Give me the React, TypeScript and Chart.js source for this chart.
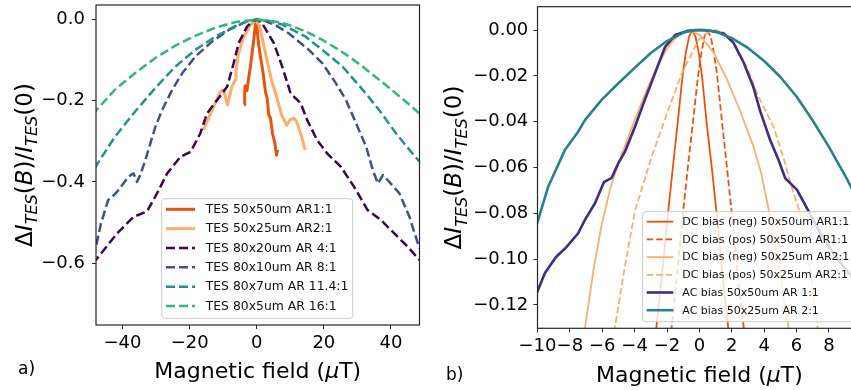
import React, { useEffect, useRef } from "react";
import { Chart, registerables } from "chart.js";

Chart.register(...registerables);

const FONT = "'DejaVu Sans', Verdana, sans-serif";
const MINUS = "\u2212";

// ---------------- Panel a) ----------------
const aXTicks = [-40, -20, 0, 20, 40];
const aYTicks = [0, -0.2, -0.4, -0.6];

const a50x50X = [-3.75, -3.6, -3.45, -2.9, -2.6, -1.9, -1.4, -0.9, -0.4, -0.1, 0.4, 1.1, 1.9, 2.6, 3.1, 3.6, 4.1, 4.7, 5.4, 5.9, 6.2];
const a50x50Y = [-0.21, -0.18, -0.163, -0.175, -0.155, -0.116, -0.083, -0.05, -0.015, 0, -0.05, -0.091, -0.132, -0.178, -0.194, -0.235, -0.243, -0.28, -0.305, -0.334, -0.321];

const a50x25X = [-15.9, -14.5, -12.9, -11.5, -10.9, -9.9, -8.7, -7.4, -6.4, -6.2, -5.7, -5.4, -3.9, -1.9, -0.3, 0.9, 2.4, 4.4, 5.9, 7.4, 8.9, 9.9, 11.1, 11.9, 13.4, 14.4];
const a50x25Y = [-0.272, -0.245, -0.215, -0.19, -0.178, -0.173, -0.21, -0.165, -0.149, -0.13, -0.095, -0.083, -0.042, -0.013, 0, -0.017, -0.075, -0.149, -0.19, -0.235, -0.26, -0.247, -0.243, -0.252, -0.289, -0.321];

const a80x20X = [-49, -47.9, -41.6, -36.7, -32.7, -29.7, -26.7, -22.7, -19.7, -16.8, -14.8, -11.8, -8.8, -6.9, -5.4, -2.9, -1, 0, 1.4, 5.1, 7.6, 10.1, 13.1, 15, 18, 21, 25, 29, 33, 37, 41, 45, 48, 49.5];
const a80x20Y = [-0.6, -0.592, -0.527, -0.486, -0.473, -0.428, -0.379, -0.338, -0.326, -0.28, -0.231, -0.198, -0.165, -0.108, -0.058, -0.017, -0.002, 0, -0.006, -0.058, -0.116, -0.182, -0.206, -0.247, -0.297, -0.33, -0.362, -0.412, -0.469, -0.494, -0.527, -0.56, -0.588, -0.6];

const a80x10X = [-49, -47.9, -46.5, -44.3, -42.5, -41.6, -38.2, -36.7, -35.7, -34.7, -33.2, -31.7, -30.2, -28.2, -25.2, -22.2, -18.3, -13.3, -8.3, -3.5, 0, 1.4, 5.5, 9.6, 15.6, 19.6, 23.6, 26.6, 29.6, 32.6, 34.6, 36.1, 37.6, 39.5, 42.5, 45.5, 48.5, 49.5];
const a80x10Y = [-0.585, -0.56, -0.505, -0.445, -0.432, -0.424, -0.387, -0.379, -0.4, -0.383, -0.346, -0.305, -0.264, -0.223, -0.173, -0.132, -0.091, -0.054, -0.025, -0.006, 0, 0, -0.013, -0.034, -0.075, -0.108, -0.157, -0.198, -0.256, -0.313, -0.371, -0.404, -0.383, -0.4, -0.428, -0.486, -0.564, -0.59];

const a80x7X = [-49, -48.3, -42.3, -36.3, -30.3, -24.3, -18.4, -12.4, -6.4, -3, 0, 3, 7.6, 14.6, 19.6, 25.6, 31.6, 36.5, 41.5, 45.5, 48.5, 49.5];
const a80x7Y = [-0.378, -0.366, -0.289, -0.227, -0.169, -0.116, -0.075, -0.042, -0.016, -0.004, 0, -0.002, -0.012, -0.042, -0.075, -0.116, -0.173, -0.223, -0.28, -0.321, -0.35, -0.36];

const a80x5X = [-49, -42.3, -36.3, -30.3, -24.3, -18.4, -12.4, -6.4, 0, 6, 9.6, 14.6, 19.6, 24, 27.5, 31, 34.6, 38, 41.5, 45, 48.5, 49.5];
const a80x5Y = [-0.234, -0.173, -0.132, -0.095, -0.064, -0.04, -0.02, -0.006, 0, -0.005, -0.013, -0.029, -0.05, -0.072, -0.091, -0.112, -0.136, -0.158, -0.182, -0.206, -0.231, -0.238];

// ---------------- Panel b) ----------------
const bXTicks = [-10, -8, -6, -4, -2, 0, 2, 4, 6, 8];
const bYTicks = [0, -0.02, -0.04, -0.06, -0.08, -0.1, -0.12];

const bDcNeg50X = [-2.8, -2.66, -2.24, -1.94, -1.64, -1.32, -1.04, -0.84, -0.64, -0.44, -0.24, -0.04, 0.16, 0.44, 0.78, 1.08, 1.36, 1.78, 1.92];
const bDcNeg50Y = [-0.14, -0.13, -0.102, -0.08, -0.06, -0.039, -0.02, -0.01, -0.003, 0, -0.003, -0.01, -0.02, -0.04, -0.061, -0.081, -0.102, -0.13, -0.14];

const bDcPos50X = [-1.86, -1.72, -1.3, -1.0, -0.7, -0.38, -0.1, 0.1, 0.3, 0.5, 0.7, 0.9, 1.1, 1.38, 1.7, 2.0, 2.3, 2.74, 2.86];
const bDcPos50Y = [-0.14, -0.13, -0.101, -0.079, -0.059, -0.039, -0.021, -0.011, -0.003, 0, -0.003, -0.01, -0.02, -0.039, -0.06, -0.08, -0.102, -0.13, -0.139];

const bDcNeg25X = [-7.3, -7.07, -6.5, -6.04, -5.5, -5.0, -4.2, -3.36, -2.54, -1.8, -1.2, -0.6, 0, 0.9, 1.7, 2.5, 3.3, 3.8, 4.27, 4.9, 5.51, 5.75];
const bDcNeg25Y = [-0.14, -0.13, -0.103, -0.085, -0.069, -0.058, -0.043, -0.028, -0.0145, -0.006, -0.0015, 0, -0.002, -0.01, -0.0215, -0.035, -0.05, -0.062, -0.078, -0.103, -0.13, -0.14];

const bDcPos25X = [-5.45, -5.22, -4.6, -3.98, -2.95, -1.92, -1.09, -0.06, 0.5, 1.0, 1.5, 2.0, 3.0, 3.55, 4.58, 5.2, 5.82, 6.23, 6.8, 7.3, 7.55];
const bDcPos25Y = [-0.14, -0.13, -0.103, -0.079, -0.0553, -0.0349, -0.0189, -0.0044, -0.001, 0, -0.001, -0.0044, -0.017, -0.0276, -0.0422, -0.056, -0.0713, -0.08, -0.103, -0.13, -0.14];

const bAc50X = [-10.2, -9.55, -8.9, -8.73, -8.31, -7.49, -7.07, -6.45, -5.9, -5.42, -5.01, -4.6, -3.98, -3.4, -2.74, -2.12, -1.5, -0.7, 0, 0.66, 1.49, 2.1, 2.72, 3.34, 3.76, 4.37, 4.89, 5.3, 6.03, 6.65, 7.47, 8.29, 9.39, 10.2];
const bAc50Y = [-0.1175, -0.1062, -0.0995, -0.0982, -0.0955, -0.0887, -0.0829, -0.0756, -0.0664, -0.0645, -0.0582, -0.0531, -0.0422, -0.031, -0.0189, -0.0073, -0.0022, -0.0003, 0, -0.0003, -0.0015, -0.0055, -0.014, -0.025, -0.0355, -0.048, -0.0567, -0.0647, -0.0698, -0.0778, -0.0887, -0.0975, -0.1077, -0.115];

const bAc25X = [-10.2, -9.34, -8.31, -7.5, -7.07, -6.04, -5, -4, -3, -2, -1, -0.3, 0.3, 1, 2, 3, 4, 5, 6, 7, 8, 9, 10.2];
const bAc25Y = [-0.0885, -0.0684, -0.0524, -0.0445, -0.0393, -0.0305, -0.0232, -0.0165, -0.01, -0.0048, -0.0012, 0, 0, -0.0006, -0.0035, -0.0078, -0.0135, -0.0205, -0.029, -0.0395, -0.051, -0.0635, -0.08];

// ---------------- helpers ----------------
type Series = { label: string; xs: number[]; ys: number[]; color: string; width: number; dash: number[] };
type Part = { t: string; it?: boolean; sub?: boolean };

const xTitleParts: Part[] = [{ t: "Magnetic field (" }, { t: "\u03bc", it: true }, { t: "T)" }];
const yTitleParts: Part[] = [
  { t: "\u0394" },
  { t: "I", it: true },
  { t: "TES", it: true, sub: true },
  { t: "(" },
  { t: "B", it: true },
  { t: ")/" },
  { t: "I", it: true },
  { t: "TES", it: true, sub: true },
  { t: "(0)" },
];

function fmt(v: number, dec: number) {
  const s = Math.abs(v).toFixed(dec);
  return (v < -1e-9 ? MINUS : "") + s;
}

function partFont(p: Part, size: number) {
  const s = p.sub ? size * 0.7 : size;
  return `${p.it ? "italic " : ""}${s}px ${FONT}`;
}

function drawParts(ctx: CanvasRenderingContext2D, parts: Part[], x: number, y: number, size: number) {
  const widths = parts.map((p) => {
    ctx.font = partFont(p, size);
    return ctx.measureText(p.t).width;
  });
  const total = widths.reduce((a, b) => a + b, 0);
  let cx = x - total / 2;
  ctx.textAlign = "left";
  ctx.textBaseline = "alphabetic";
  parts.forEach((p, i) => {
    ctx.font = partFont(p, size);
    ctx.fillText(p.t, cx, y + (p.sub ? size * 0.24 : 0));
    cx += widths[i];
  });
}

function roundRect(ctx: CanvasRenderingContext2D, x: number, y: number, w: number, h: number, r: number) {
  ctx.beginPath();
  ctx.moveTo(x + r, y);
  ctx.lineTo(x + w - r, y);
  ctx.quadraticCurveTo(x + w, y, x + w, y + r);
  ctx.lineTo(x + w, y + h - r);
  ctx.quadraticCurveTo(x + w, y + h, x + w - r, y + h);
  ctx.lineTo(x + r, y + h);
  ctx.quadraticCurveTo(x, y + h, x, y + h - r);
  ctx.lineTo(x, y + r);
  ctx.quadraticCurveTo(x, y, x + r, y);
  ctx.closePath();
}

type LegendCfg = { x: number; y: number; w: number; h: number; row0: number; step: number; s0: number; s1: number; tx: number; size: number };

type PanelCfg = {
  left: number;
  width: number;
  series: Series[];
  xMin: number;
  xMax: number;
  yMin: number;
  yMax: number;
  xTicks: number[];
  yTicks: number[];
  yDec: number;
  xDec: number;
  pad: { left: number; right: number; top: number; bottom: number };
  yAxisW: number;
  xAxisH: number;
  yTickPad: number;
  xTickPad: number;
  legend: LegendCfg;
  xTitleY: number;
  yTitleX: number;
  label: string;
  labelX: number;
  labelY: number;
};

function makePlugin(cfg: PanelCfg) {
  return {
    id: "panelDecor",
    afterDatasetsDraw(chart: any) {
      const { ctx, chartArea: ca } = chart;
      ctx.save();
      ctx.strokeStyle = "#262626";
      ctx.lineWidth = 1.2;
      ctx.setLineDash([]);
      ctx.strokeRect(ca.left, ca.top, ca.right - ca.left, ca.bottom - ca.top);

      const L = cfg.legend;
      roundRect(ctx, L.x, L.y, L.w, L.h, 3);
      ctx.fillStyle = "rgba(255,255,255,0.8)";
      ctx.fill();
      ctx.strokeStyle = "#cccccc";
      ctx.lineWidth = 1;
      ctx.stroke();
      cfg.series.forEach((s, i) => {
        const y = L.row0 + i * L.step;
        ctx.setLineDash(s.dash);
        ctx.strokeStyle = s.color;
        ctx.lineWidth = s.width;
        ctx.lineCap = "butt";
        ctx.beginPath();
        ctx.moveTo(L.s0, y);
        ctx.lineTo(L.s1, y);
        ctx.stroke();
        ctx.setLineDash([]);
        ctx.fillStyle = "#111";
        ctx.font = `${L.size}px ${FONT}`;
        ctx.textAlign = "left";
        ctx.textBaseline = "middle";
        ctx.fillText(s.label, L.tx, y + 0.5);
      });
      ctx.restore();
    },
    afterDraw(chart: any) {
      const { ctx, chartArea: ca } = chart;
      ctx.save();
      ctx.fillStyle = "#000";
      drawParts(ctx, xTitleParts, (ca.left + ca.right) / 2, cfg.xTitleY, 22);
      ctx.translate(cfg.yTitleX, (ca.top + ca.bottom) / 2);
      ctx.rotate(-Math.PI / 2);
      drawParts(ctx, yTitleParts, 0, 0, 23);
      ctx.restore();
      ctx.save();
      ctx.fillStyle = "#000";
      ctx.font = `17px ${FONT}`;
      ctx.textAlign = "left";
      ctx.textBaseline = "alphabetic";
      ctx.fillText(cfg.label, cfg.labelX, cfg.labelY);
      ctx.restore();
    },
  };
}

function Panel({ cfg }: { cfg: PanelCfg }) {
  const ref = useRef<HTMLCanvasElement | null>(null);
  useEffect(() => {
    const n = cfg.series.length;
    const datasets = cfg.series.map((s, i) => ({
      label: s.label,
      data: s.xs.map((x, j) => ({ x, y: s.ys[j] })),
      borderColor: s.color,
      backgroundColor: s.color,
      borderWidth: s.width,
      borderDash: s.dash,
      borderCapStyle: "butt",
      borderJoinStyle: "round",
      pointRadius: 0,
      pointHoverRadius: 0,
      fill: false,
      tension: 0,
      order: n - 1 - i,
    }));
    const tickFont = { family: FONT, size: 18 };
    const chart = new Chart(ref.current as HTMLCanvasElement, {
      type: "line",
      data: { datasets: datasets as any },
      plugins: [makePlugin(cfg) as any],
      options: {
        animation: false,
        responsive: false,
        maintainAspectRatio: false,
        devicePixelRatio: 1,
        events: [],
        layout: { padding: cfg.pad, autoPadding: false },
        plugins: { legend: { display: false }, tooltip: { enabled: false }, title: { display: false } },
        scales: {
          x: {
            type: "linear",
            min: cfg.xMin,
            max: cfg.xMax,
            afterFit: (s: any) => {
              s.height = cfg.xAxisH;
              s.paddingLeft = 0;
              s.paddingRight = 0;
            },
            afterBuildTicks: (s: any) => {
              s.ticks = cfg.xTicks.map((v) => ({ value: v }));
            },
            ticks: {
              font: tickFont,
              color: "#000",
              padding: cfg.xTickPad,
              maxRotation: 0,
              autoSkip: false,
              callback: (v: any) => fmt(Number(v), cfg.xDec),
            },
            grid: { drawOnChartArea: false, drawTicks: true, tickLength: 4, color: "#262626", lineWidth: 1 },
            border: { display: false },
          },
          y: {
            type: "linear",
            min: cfg.yMin,
            max: cfg.yMax,
            afterFit: (s: any) => {
              s.width = cfg.yAxisW;
              s.paddingTop = 0;
              s.paddingBottom = 0;
            },
            afterBuildTicks: (s: any) => {
              s.ticks = cfg.yTicks.map((v) => ({ value: v }));
            },
            ticks: {
              font: tickFont,
              color: "#000",
              padding: cfg.yTickPad,
              autoSkip: false,
              callback: (v: any) => fmt(Number(v), cfg.yDec),
            },
            grid: { drawOnChartArea: false, drawTicks: true, tickLength: 4, color: "#262626", lineWidth: 1 },
            border: { display: false },
          },
        },
      } as any,
    });
    return () => chart.destroy();
  }, []);
  return (
    <canvas
      ref={ref}
      width={cfg.width}
      height={390}
      style={{ position: "absolute", left: cfg.left, top: 0, width: cfg.width, height: 390 }}
    />
  );
}

const DARK_OR = "#e6550d";
const LIGHT_OR = "#fdae6b";

const seriesA: Series[] = [
  { label: "TES 50x50um AR1:1", xs: a50x50X, ys: a50x50Y, color: DARK_OR, width: 3, dash: [] },
  { label: "TES 50x25um AR2:1", xs: a50x25X, ys: a50x25Y, color: LIGHT_OR, width: 3, dash: [] },
  { label: "TES 80x20um AR 4:1", xs: a80x20X, ys: a80x20Y, color: "#440154", width: 2.5, dash: [9, 4] },
  { label: "TES 80x10um AR 8:1", xs: a80x10X, ys: a80x10Y, color: "#3b528b", width: 2.5, dash: [9, 4] },
  { label: "TES 80x7um AR 11.4:1", xs: a80x7X, ys: a80x7Y, color: "#21918c", width: 2.5, dash: [9, 4] },
  { label: "TES 80x5um AR 16:1", xs: a80x5X, ys: a80x5Y, color: "#35b779", width: 2.5, dash: [9, 4] },
];

const seriesB: Series[] = [
  { label: "DC bias (neg) 50x50um AR1:1", xs: bDcNeg50X, ys: bDcNeg50Y, color: DARK_OR, width: 1.8, dash: [] },
  { label: "DC bias (pos) 50x50um AR1:1", xs: bDcPos50X, ys: bDcPos50Y, color: DARK_OR, width: 1.8, dash: [6.5, 3] },
  { label: "DC bias (neg) 50x25um AR2:1", xs: bDcNeg25X, ys: bDcNeg25Y, color: LIGHT_OR, width: 1.8, dash: [] },
  { label: "DC bias (pos) 50x25um AR2:1", xs: bDcPos25X, ys: bDcPos25Y, color: LIGHT_OR, width: 1.8, dash: [6.5, 3] },
  { label: "AC bias 50x50um AR 1:1", xs: bAc50X, ys: bAc50Y, color: "#3f2d84", width: 2.6, dash: [] },
  { label: "AC bias 50x25um AR 2:1", xs: bAc25X, ys: bAc25Y, color: "#26828e", width: 2.6, dash: [] },
];

const panelA: PanelCfg = {
  left: 0,
  width: 430,
  series: seriesA,
  xMin: -47.9,
  xMax: 48.5,
  yMin: -0.7528,
  yMax: 0.0362,
  xTicks: aXTicks,
  yTicks: aYTicks,
  xDec: 0,
  yDec: 1,
  pad: { left: 0, right: 10.5, top: 5, bottom: 0 },
  yAxisW: 96,
  xAxisH: 65,
  yTickPad: 7,
  xTickPad: 4,
  legend: { x: 161.7, y: 198.7, w: 191, h: 119.6, row0: 209.3, step: 19.34, s0: 166, s1: 195, tx: 205.7, size: 12.4 },
  xTitleY: 378.3,
  yTitleX: 31.5,
  label: "a)",
  labelX: 18,
  labelY: 374,
};

const panelB: PanelCfg = {
  left: 430,
  width: 440,
  series: seriesB,
  xMin: -10,
  xMax: 10,
  yMin: -0.1302,
  yMax: 0.0102,
  xTicks: bXTicks,
  yTicks: bYTicks,
  xDec: 0,
  yDec: 2,
  pad: { left: 0, right: 8.7, top: 6.7, bottom: 0 },
  yAxisW: 107.5,
  xAxisH: 61.7,
  yTickPad: 5.2,
  xTickPad: 3.6,
  legend: { x: 212.7, y: 211.7, w: 215, h: 110, row0: 221.7, step: 17.7, s0: 216.7, s1: 243.3, tx: 252.3, size: 11 },
  xTitleY: 381.7,
  yTitleX: 31,
  label: "b)",
  labelX: 16,
  labelY: 380,
};

export default function App() {
  return (
    <div style={{ position: "fixed", left: 0, top: 0, width: 851, height: 390, overflow: "hidden", background: "#fff" }}>
      <Panel cfg={panelA} />
      <Panel cfg={panelB} />
    </div>
  );
}
